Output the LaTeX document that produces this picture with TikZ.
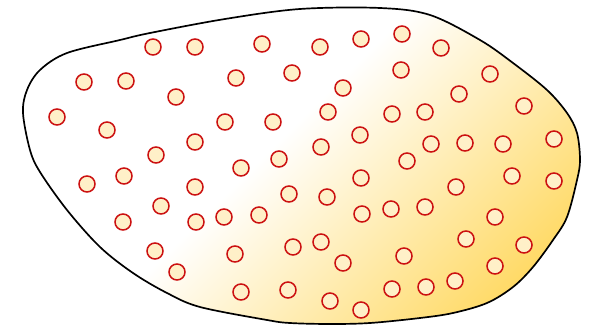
\documentclass[tikz,border=0pt]{standalone}
\usepackage{tikz}
\usetikzlibrary{shapes,arrows.meta,positioning}

\definecolor{dotred}{HTML}{CC1111}
\definecolor{dotfill}{HTML}{FFF0C8}
\definecolor{blobgold}{HTML}{FFCF3A}
\pgfdeclarehorizontalshading{blobfill}{100bp}{color(0bp)=(white); color(47bp)=(white); color(76bp)=(blobgold); color(100bp)=(blobgold)}

\begin{document}
\begin{tikzpicture}[x=0.025cm,y=-0.025cm,
    dot/.style={circle,draw=dotred,fill=dotfill,line width=1.1pt,minimum size=0.4cm,inner sep=0pt},
    outline/.style={draw=black,line width=1.2pt}]
    \useasboundingbox (0,0) rectangle (589,327);

    % the blob, shaded from the upper left to the lower right
    \def\blobpath{plot[smooth cycle,tension=0.55] coordinates {(23,113) (27,90) (40,70) (67,53) (120,40) (150,33) (225,19) (300,9) (380,8) (430,15) (480,40) (513,63) (547,90) (567,113) (577,133) (580,160) (577,180) (567,217) (553,240) (533,267) (513,287) (487,303) (453,313) (420,318) (370,323) (330,324) (290,323) (267,320) (200,307) (167,293) (133,273) (100,247) (67,210) (40,172) (30,150)}}
    \begin{scope}
        \clip \blobpath;
        \begin{scope}[transform canvas={rotate around={-45:(300,170)}}]
            \shade[shading=blobfill] (0,-150) rectangle (600,490);
        \end{scope}
    \end{scope}
    \path[outline] \blobpath;

    % the dots
    \foreach \x/\y [count=\i] in {153/47,195/47,262/44,320/47,361/39,402/34,441/48,
        84/82,126/81,236/78,292/73,401/70,490/74,176/97,343/88,459/94,524/106,
        57/117,107/130,225/122,273/122,328/112,392/114,425/112,
        195/142,156/155,279/159,321/147,360/135,431/144,465/143,503/144,554/139,
        241/168,407/161,87/184,124/176,195/187,289/194,327/197,361/178,456/187,512/176,554/181,
        161/206,123/222,196/222,224/217,259/215,362/214,391/209,425/207,495/217,
        155/251,235/254,293/247,321/242,466/239,524/245,
        177/272,343/263,404/256,495/266,
        241/292,288/290,330/301,361/310,392/289,426/287,455/281}
        \node[dot] (d\i) at (\x,\y) {};
\end{tikzpicture}
\end{document}
